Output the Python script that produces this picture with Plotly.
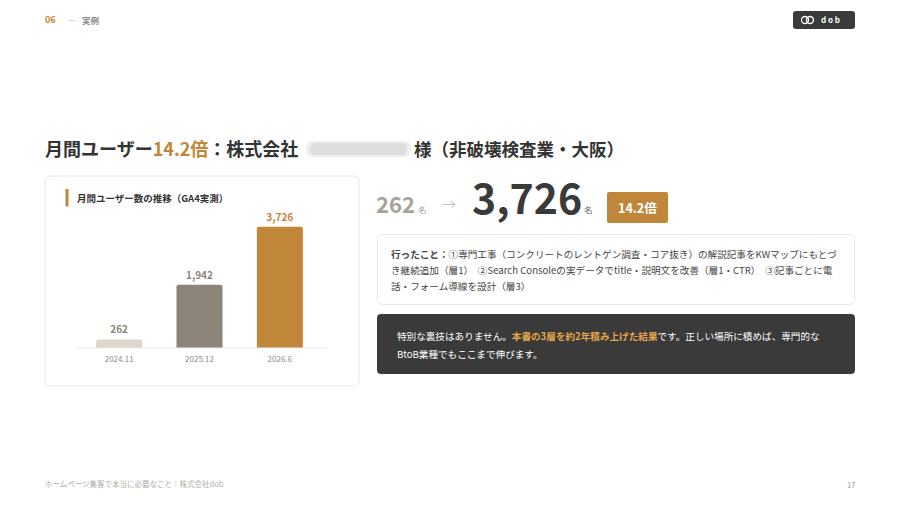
import plotly.graph_objects as go

# ---- data ----
periods = ["2024.11", "2025.12", "2026.6"]
monthly_users = [262, 1942, 3726]
bar_colors = ["#DDD6CA", "#8C8478", "#C0873A"]
label_colors = ["#8C8478", "#8C8478", "#C0873A"]

W, H = 900, 506
FONT = "Noto Sans CJK JP"
ORANGE = "#C0873A"
DARK = "#333333"

def X(px):
    return px / W

def Y(py):
    return 1 - py / H

def rrect(x0, y0, x1, y1, r):
    return (f"M {X(x0+r)},{Y(y0)} L {X(x1-r)},{Y(y0)} Q {X(x1)},{Y(y0)} {X(x1)},{Y(y0+r)} "
            f"L {X(x1)},{Y(y1-r)} Q {X(x1)},{Y(y1)} {X(x1-r)},{Y(y1)} "
            f"L {X(x0+r)},{Y(y1)} Q {X(x0)},{Y(y1)} {X(x0)},{Y(y1-r)} "
            f"L {X(x0)},{Y(y0+r)} Q {X(x0)},{Y(y0)} {X(x0+r)},{Y(y0)} Z")

shapes = []
annotations = []

def box(x0, y0, x1, y1, r, fill, line=None, lw=1, opacity=1):
    shapes.append(dict(type="path", path=rrect(x0, y0, x1, y1, r), xref="paper", yref="paper",
                       fillcolor=fill, opacity=opacity,
                       line=dict(color=line if line else fill, width=lw if line else 0), layer="below"))

def txt(x, y, s, size, color, bold=False, anchor="left", family=FONT):
    annotations.append(dict(x=X(x), y=Y(y), xref="paper", yref="paper", text=s, showarrow=False,
                            xanchor=anchor, yanchor="middle", borderpad=0, borderwidth=0,
                            font=dict(size=size, color=color, family=family,
                                      weight="bold" if bold else "normal")))

# ---- header ----
txt(45, 20, "06", 9, ORANGE, bold=True)
txt(68, 20, "—", 8, "#BBBBBB")
txt(82, 20, "実例", 8.5, "#888888", bold=True)

box(793, 11, 855, 29, 3, "#3A3A3A")
shapes.append(dict(type="circle", xref="paper", yref="paper", x0=X(801.5), x1=X(808.5), y0=Y(23.5), y1=Y(16.5),
                   line=dict(color="white", width=1.3)))
shapes.append(dict(type="circle", xref="paper", yref="paper", x0=X(806.5), x1=X(813.5), y0=Y(23.5), y1=Y(16.5),
                   line=dict(color="white", width=1.3)))
txt(821, 20, "d o b", 8, "white", bold=True)

# ---- title ----
txt(45, 148, f"月間ユーザー<span style='color:{ORANGE}'>{monthly_users[-1]/monthly_users[0]:.1f}倍</span>：株式会社",
    18, DARK, bold=True)
# blurred company name
box(306, 141, 411, 157, 8, "#D9D9D9", opacity=0.45)
box(310, 143, 407, 155, 6, "#CFCFCF", opacity=0.55)
txt(414, 148, "様（非破壊検査業・大阪）", 17.5, DARK, bold=True)

# ---- chart card ----
box(45, 176, 359, 386, 6, "white", line="#E6E6E6")
shapes.append(dict(type="rect", xref="paper", yref="paper", x0=X(65.5), x1=X(68.5), y0=Y(206.5), y1=Y(189),
                   fillcolor=ORANGE, line=dict(width=0)))
txt(77, 198, "月間ユーザー数の推移（GA4実測）", 9.5, DARK, bold=True)
shapes.append(dict(type="line", xref="paper", yref="paper", x0=X(77), x1=X(327), y0=Y(348), y1=Y(348),
                   line=dict(color="#ECECEC", width=1)))

# ---- right side stats ----
txt(376, 203, f"{monthly_users[0]:,}", 22, "#A8A39A", bold=True)
txt(418, 209, "名", 8.5, "#A8A39A")
txt(442, 203, "→", 14, "#C8C4BC")
txt(472, 196, f"{monthly_users[-1]:,}", 41, "#3A3A3A", bold=True)
txt(584, 209, "名", 8.5, "#666666")
box(607, 192, 668, 223, 2, ORANGE)
txt(637.5, 207.5, f"{monthly_users[-1]/monthly_users[0]:.1f}倍", 12.5, "white", bold=True, anchor="center")

# box 1
box(377.5, 234.5, 854.5, 304.5, 5, "white", line="#E8E8E8")
txt(391, 254, "<b>行ったこと：</b>①専門工事（コンクリートのレントゲン調査・コア抜き）の解説記事をKWマップにもとづ", 9.6, "#444444")
txt(391, 270, "き継続追加（層1）　②Search Consoleの実データでtitle・説明文を改善（層1・CTR）　③記事ごとに電", 9.6, "#444444")
txt(391, 286, "話・フォーム導線を設計（層3）", 9.6, "#444444")

# box 2
box(377, 314, 855, 374, 4, "#3A3A3A")
txt(397, 336, "特別な裏技はありません。<b><span style='color:#E3A64B'>本書の3層を約2年積み上げた結果</span></b>です。正しい場所に積めば、専門的な",
    9.6, "white")
txt(397, 354, "BtoB業種でもここまで伸びます。", 9.6, "white")

# ---- footer ----
txt(45, 483, "ホームページ集客で本当に必要なこと｜株式会社dob", 7.5, "#B0ACA5")
txt(855, 484, "17", 7.5, "#999999", anchor="right")

# ---- bar chart ----
fig = go.Figure()
fig.add_trace(go.Bar(
    x=periods, y=monthly_users,
    marker=dict(color=bar_colors, cornerradius=2, line=dict(width=0)),
    text=[f"{v:,}" for v in monthly_users],
    textposition="outside", cliponaxis=False,
    textfont=dict(size=10, color=label_colors, family=FONT, weight="bold"),
    hoverinfo="skip",
))

fig.update_layout(
    width=W, height=H,
    margin=dict(l=0, r=0, t=0, b=0),
    paper_bgcolor="white", plot_bgcolor="rgba(0,0,0,0)",
    showlegend=False,
    bargap=0.427,
    xaxis=dict(domain=[X(79), X(320)], showgrid=False, zeroline=False, showline=False,
               ticks="", ticklabelstandoff=5,
               tickfont=dict(size=8, color="#8B8B95", family=FONT), fixedrange=True),
    yaxis=dict(domain=[Y(348), Y(210)], range=[0, 4240], showgrid=False, zeroline=False,
               showticklabels=False, showline=False, fixedrange=True),
    shapes=shapes,
    annotations=annotations,
    font=dict(family=FONT),
)

fig.write_html("out.html", config={"displayModeBar": False},
               post_script="document.body.style.margin='0';document.body.style.overflow='hidden';")
